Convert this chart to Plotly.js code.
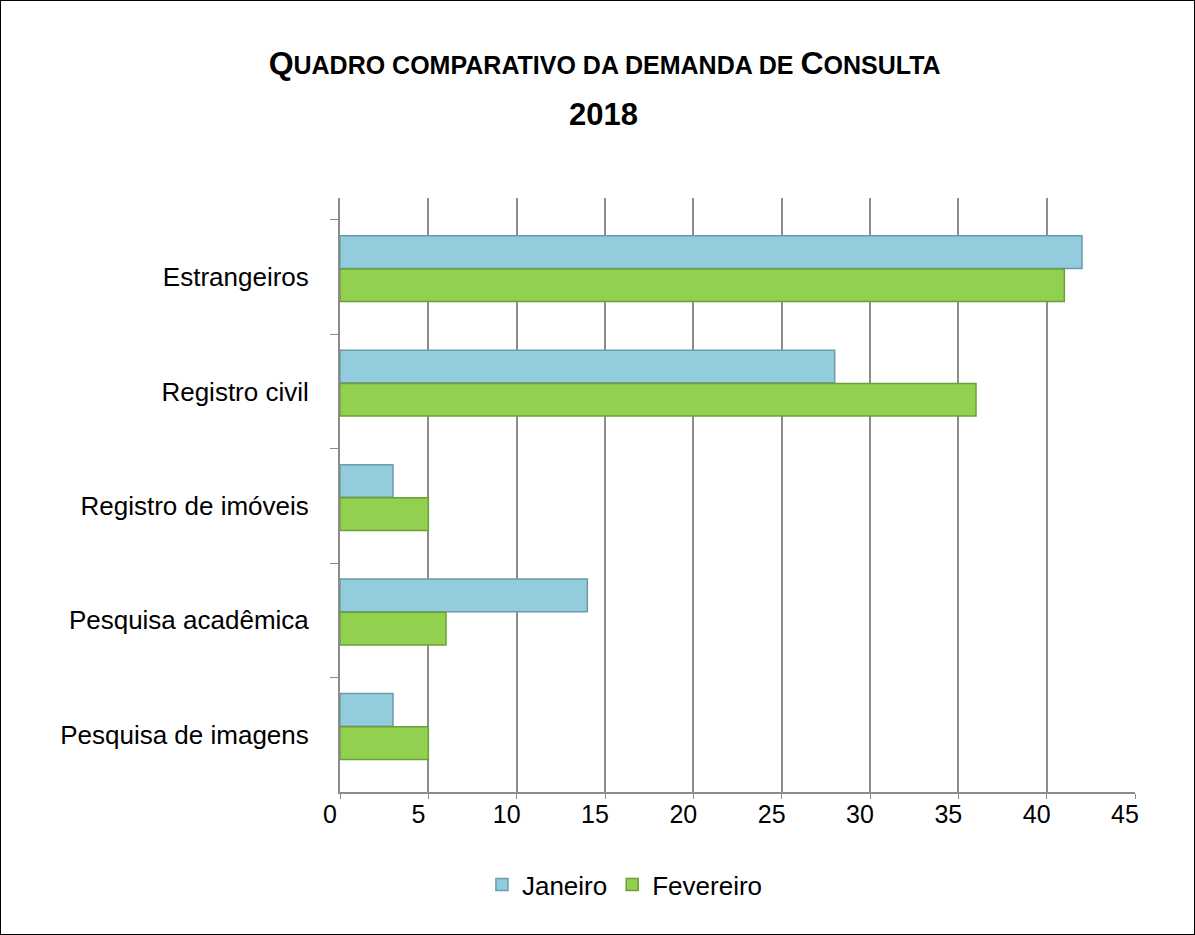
<!DOCTYPE html>
<html>
<head>
<meta charset="utf-8">
<script src="https://cdn.plot.ly/plotly-3.0.1.min.js"></script>
<style>
  body { margin: 0; background: #fff; }
  #chart { width: 1195px; height: 935px; border: 1px solid #000; box-sizing: border-box; }
</style>
</head>
<body>
<div id="chart"></div>
<script>
document.addEventListener("DOMContentLoaded", function() {
  // Categories, top to bottom as in the picture
  const categories = ["Estrangeiros", "Registro civil", "Registro de imóveis", "Pesquisa acadêmica", "Pesquisa de imagens"];
  // Consultations per month
  const janeiro = [42, 28, 3, 14, 3];
  const fevereiro = [41, 36, 5, 6, 5];
  const xTicks = [0, 5, 10, 15, 20, 25, 30, 35, 40, 45];

  const janTrace = {
    type: "bar",
    orientation: "h",
    x: janeiro,
    y: categories,
    name: "Janeiro",
    width: 0.285,
    offset: -0.36,
    marker: { color: "#93cddd", line: { color: "#6b9aa8", width: 1.5 } },
    hoverinfo: "x+name"
  };

  const fevTrace = {
    type: "bar",
    orientation: "h",
    x: fevereiro,
    y: categories,
    name: "Fevereiro",
    width: 0.285,
    offset: -0.07,
    marker: { color: "#92d050", line: { color: "#6c9e3a", width: 1.5 } },
    hoverinfo: "x+name"
  };

  const layout = {
    width: 1193,
    height: 933,
    margin: { l: 339, r: 59, t: 197, b: 142 },
    paper_bgcolor: "#fff",
    plot_bgcolor: "#fff",
    font: { family: "Liberation Sans, Arial, sans-serif", size: 24, color: "#000" },
    title: {
      text: "<b>Q<span style='font-size:25px'>UADRO COMPARATIVO DA DEMANDA DE </span>C<span style='font-size:25px'>ONSULTA</span></b>",
      font: { size: 32, color: "#000" },
      xref: "container",
      x: 0.506,
      xanchor: "center",
      yref: "container",
      y: 0.934,
      yanchor: "middle"
    },
    annotations: [{
      text: "<b>2018</b>",
      xref: "paper",
      yref: "paper",
      x: 0.332,
      y: 1.14,
      xanchor: "center",
      yanchor: "middle",
      showarrow: false,
      font: { size: 31, color: "#000" }
    }],
    barmode: "group",
    xaxis: {
      range: [0, 45],
      tickvals: xTicks,
      showgrid: true,
      gridcolor: "#8c8c8c",
      gridwidth: 1.5,
      zeroline: false,
      showline: true,
      linecolor: "#8c8c8c",
      linewidth: 2,
      ticks: "outside",
      ticklen: 5,
      tickcolor: "#8c8c8c",
      ticklabelshift: -10,
      ticklabelstandoff: -6,
      tickfont: { size: 25 }
    },
    yaxis: {
      type: "category",
      range: [4.5, -0.69],
      showgrid: false,
      zeroline: false,
      showline: true,
      linecolor: "#8c8c8c",
      linewidth: 2,
      ticks: "outside",
      tickson: "boundaries",
      ticklen: 8,
      tickcolor: "#8c8c8c",
      ticklabelstandoff: 24,
      tickfont: { size: 26 }
    },
    showlegend: true,
    legend: {
      orientation: "h",
      xref: "container",
      x: 0.523,
      xanchor: "center",
      yref: "container",
      y: 0.053,
      yanchor: "middle",
      font: { size: 26 },
      itemwidth: 30
    }
  };

  Plotly.newPlot("chart", [janTrace, fevTrace], layout, { displayModeBar: false });
});
</script>
</body>
</html>
